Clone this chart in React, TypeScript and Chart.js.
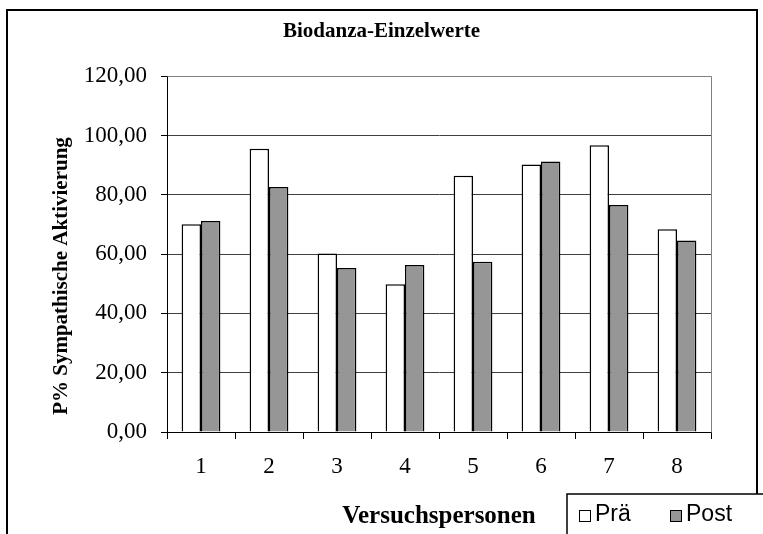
import React, { useEffect, useRef } from "react";
import { Chart, registerables } from "chart.js";

Chart.register(...registerables);

const categories = ["1", "2", "3", "4", "5", "6", "7", "8"];
const seriesNames = ["Prä", "Post"];
const praeValues = [70.1, 95.5, 60.2, 49.8, 86.4, 90.2, 96.7, 68.4];
const postValues = [71.2, 82.6, 55.3, 56.3, 57.4, 91.2, 76.6, 64.6];
const chartTitle = "Biodanza-Einzelwerte";
const xTitle = "Versuchspersonen";
const yTitle = "P% Sympathische Aktivierung";
const yMin = 0;
const yMax = 120;
const yStep = 20;

const SERIF = "'Liberation Serif', 'Times New Roman', serif";
const SANS = "'Liberation Sans', Arial, sans-serif";
const fillColors = ["#ffffff", "#969696"];

const framePlugin = {
  id: "frameAndLegend",
  afterDraw(chart: any) {
    const ctx = chart.ctx;
    const a = chart.chartArea;
    ctx.save();
    // plot area top/right border (gray)
    ctx.strokeStyle = "#808080";
    ctx.lineWidth = 1;
    ctx.beginPath();
    ctx.moveTo(Math.round(a.left) + 0.5, Math.round(a.top) + 0.5);
    ctx.lineTo(Math.round(a.right) + 0.5, Math.round(a.top) + 0.5);
    ctx.lineTo(Math.round(a.right) + 0.5, Math.round(a.bottom) + 0.5);
    ctx.stroke();

    // outer frame
    ctx.strokeStyle = "#000000";
    ctx.lineWidth = 2;
    ctx.strokeRect(7, 10, 750, 600);

    // y axis title
    ctx.fillStyle = "#000000";
    ctx.font = `bold 21px ${SERIF}`;
    ctx.textAlign = "center";
    ctx.textBaseline = "middle";
    ctx.translate(62, 276);
    ctx.rotate(-Math.PI / 2);
    ctx.fillText(yTitle, 0, 0);
    ctx.setTransform(1, 0, 0, 1, 0, 0);

    // legend box
    const lx = 567;
    const ly = 494;
    ctx.fillStyle = "#ffffff";
    ctx.fillRect(lx, ly, 220, 60);
    ctx.strokeStyle = "#000000";
    ctx.lineWidth = 1.5;
    ctx.strokeRect(lx, ly, 220, 60);

    const items = chart.data.datasets.map((d: any) => ({
      label: d.label,
      fill: d.backgroundColor,
    }));
    const xs = [579, 670];
    ctx.font = `23px ${SANS}`;
    ctx.textAlign = "left";
    ctx.textBaseline = "middle";
    items.forEach((it: any, i: number) => {
      const sx = xs[i];
      ctx.fillStyle = it.fill;
      ctx.fillRect(sx, 510, 12, 12);
      ctx.strokeStyle = "#000000";
      ctx.lineWidth = 1;
      ctx.strokeRect(sx + 0.5, 510.5, 11, 11);
      ctx.fillStyle = "#000000";
      ctx.fillText(it.label, sx + 16, 515);
    });
    ctx.restore();
  },
};

export default function App() {
  const ref = useRef<HTMLCanvasElement>(null);

  useEffect(() => {
    if (!ref.current) return;
    const chart = new Chart(ref.current, {
      type: "bar",
      data: {
        labels: categories,
        datasets: [
          {
            label: seriesNames[0],
            data: praeValues,
            backgroundColor: fillColors[0],
            borderColor: "#000000",
            borderWidth: 1.5,
            categoryPercentage: 0.57,
            barPercentage: 1,
          },
          {
            label: seriesNames[1],
            data: postValues,
            backgroundColor: fillColors[1],
            borderColor: "#000000",
            borderWidth: 1.5,
            categoryPercentage: 0.57,
            barPercentage: 1,
          },
        ],
      },
      options: {
        responsive: false,
        animation: false,
        layout: { padding: { left: 0, right: 0, top: 0, bottom: 0 } },
        plugins: {
          legend: { display: false },
          tooltip: { enabled: false },
          title: {
            display: true,
            text: chartTitle,
            color: "#000000",
            font: { family: SERIF, size: 21, weight: "bold" },
            padding: { top: 19, bottom: 32 },
          },
        },
        scales: {
          x: {
            offset: true,
            grid: {
              offset: true,
              drawOnChartArea: false,
              tickLength: 7,
              tickColor: "#000000",
            },
            border: { color: "#000000", width: 1 },
            ticks: {
              color: "#000000",
              font: { family: SERIF, size: 23 },
              padding: 14,
              maxRotation: 0,
            },
            title: {
              display: true,
              text: xTitle,
              color: "#000000",
              font: { family: SERIF, size: 25, weight: "bold" },
              padding: { top: 0, bottom: 2 },
            },
            afterFit(scale: any) {
              scale.height = 102;
            },
          } as any,
          y: {
            min: yMin,
            max: yMax,
            grid: {
              color: (c: any) =>
                c.tick && c.tick.value === yMax ? "#808080" : "#404040",
              tickLength: 6,
              tickColor: "#000000",
            },
            border: { color: "#000000", width: 1 },
            ticks: {
              stepSize: yStep,
              color: "#000000",
              font: { family: SERIF, size: 23 },
              padding: 14,
              callback: (v: any) => Number(v).toFixed(2).replace(".", ","),
            },
            afterFit(scale: any) {
              scale.width = 167;
            },
          },
          yRight: {
            axis: "y",
            position: "right",
            display: true,
            grid: { display: false, drawOnChartArea: false, drawTicks: false },
            border: { display: false },
            ticks: { display: false },
            afterFit(scale: any) {
              scale.width = 52;
            },
          } as any,
        },
      },
      plugins: [framePlugin],
    });
    return () => chart.destroy();
  }, []);

  return (
    <div style={{ position: "absolute", left: 0, top: 0, width: 763, height: 534, background: "#fff" }}>
      <canvas ref={ref} width={763} height={534} style={{ display: "block" }} />
    </div>
  );
}
